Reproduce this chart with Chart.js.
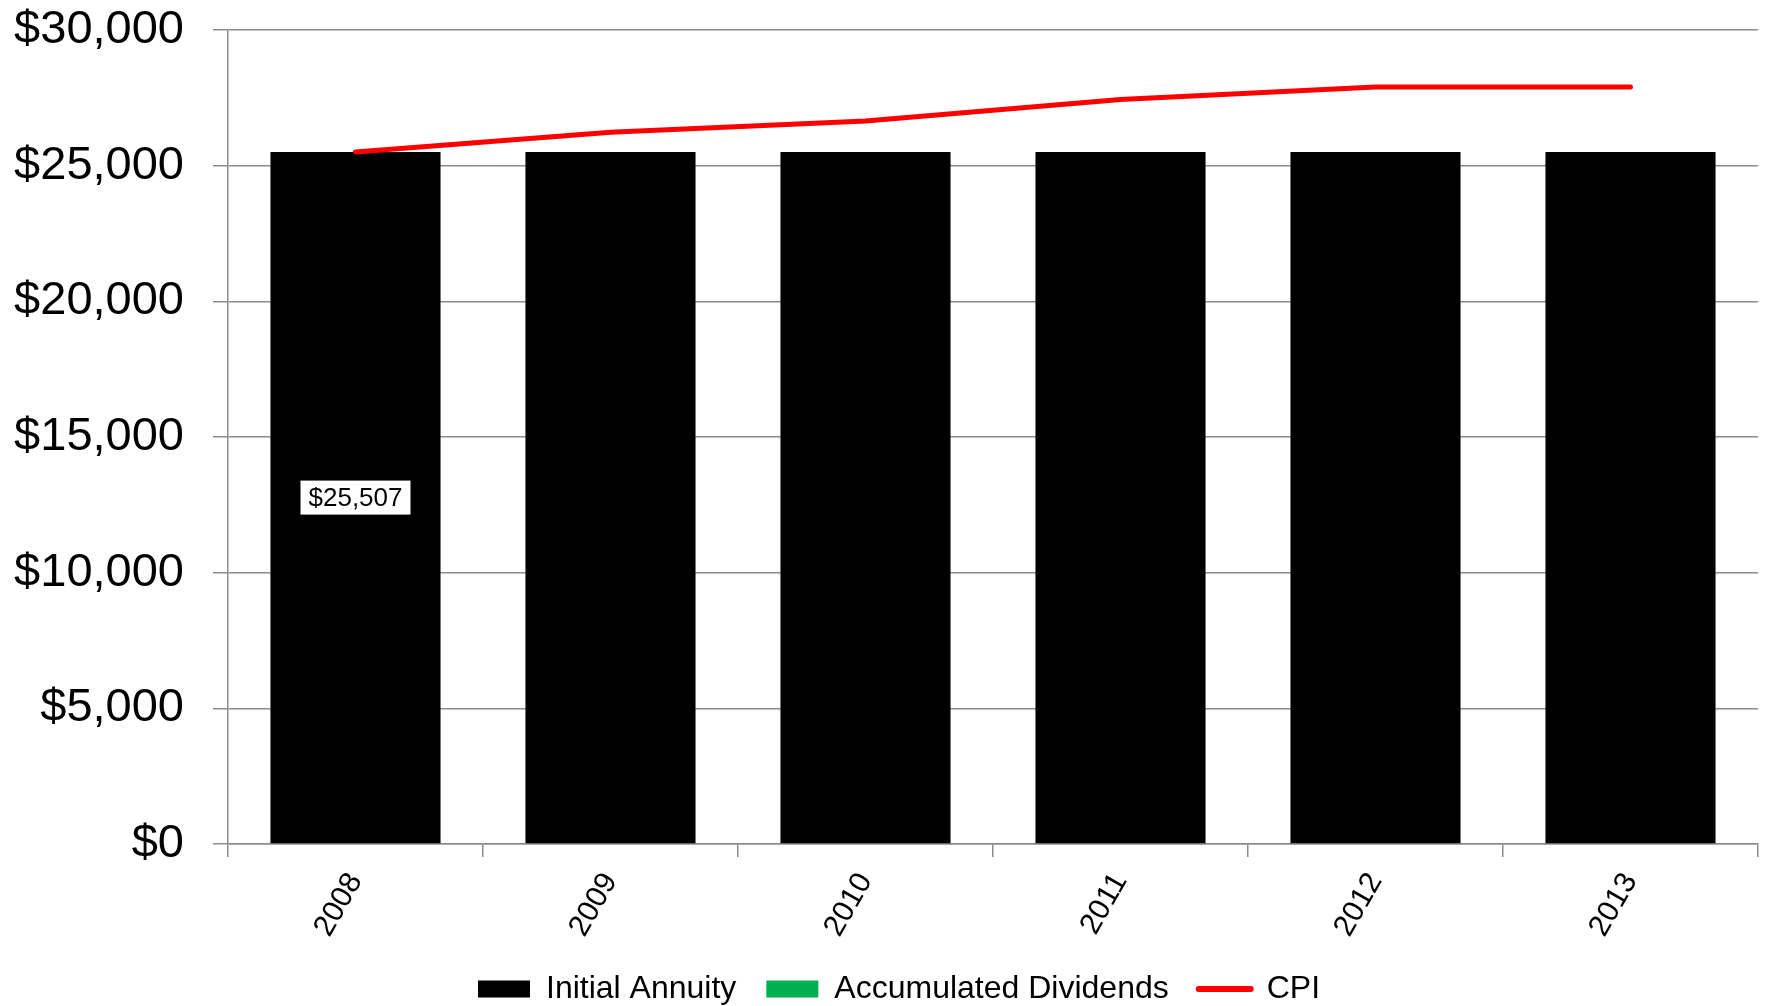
<!DOCTYPE html>
<html>
<head>
<meta charset="utf-8">
<script src="https://cdn.jsdelivr.net/npm/chart.js@4/dist/chart.umd.min.js"></script>
<style>
  html, body { margin: 0; padding: 0; background: #ffffff; }
  #wrap { width: 1773px; height: 1006px; position: relative; }
</style>
</head>
<body>
<div id="wrap"><canvas id="chart" width="1773" height="1006"></canvas></div>
<script>
// Annual values
const years = ['2008', '2009', '2010', '2011', '2012', '2013'];
const initialAnnuity = [25507, 25507, 25507, 25507, 25507, 25507];
const accumulatedDividends = [0, 0, 0, 0, 0, 0];
const cpi = [25507, 26230, 26650, 27440, 27900, 27900];
const yTicks = [0, 5000, 10000, 15000, 20000, 25000, 30000];
const labelledBars = [0]; // bar indices that carry a value label

const FONT = '"Liberation Sans", Arial, Helvetica, sans-serif';
const GRID = '#8c8c8c';

const money = v => '$' + Number(v).toLocaleString('en-US');

// value label in a white box at the middle of a bar
const barLabels = {
  id: 'barLabels',
  afterDatasetsDraw(chart) {
    const meta = chart.getDatasetMeta(0);
    const ctx = chart.ctx;
    ctx.save();
    ctx.font = '26px ' + FONT;
    ctx.textAlign = 'center';
    ctx.textBaseline = 'middle';
    labelledBars.forEach(i => {
      const bar = meta.data[i];
      const text = money(chart.data.datasets[0].data[i]);
      const cx = bar.x;
      const cy = (bar.y + bar.base) / 2;
      const w = ctx.measureText(text).width + 16;
      const h = 34;
      ctx.fillStyle = '#ffffff';
      ctx.fillRect(cx - w / 2, cy - h / 2, w, h);
      ctx.fillStyle = '#000000';
      ctx.fillText(text, cx, cy + 1);
    });
    ctx.restore();
  }
};

// place the legend row under the axis labels and let the year labels use the space above it
const legendPlacement = {
  id: 'legendPlacement',
  beforeDraw(chart) {
    const lg = chart.legend;
    if (lg && lg.lineWidths) {
      const p = chart.options.plugins.legend.labels.padding;
      const fs = chart.options.plugins.legend.labels.font.size;
      const dy = (989 - fs / 2 - p) - lg.top;
      lg.top += dy; lg.bottom += dy;
      const start = (lg.left + p + lg.right - lg.lineWidths[0]) / 2;
      const dx = 478 - start;
      lg.left += dx; lg.right += dx;
    }
    chart.scales.x.bottom = 962;
  }
};

new Chart(document.getElementById('chart'), {
  data: {
    labels: years,
    datasets: [
      {
        type: 'bar',
        label: 'Initial Annuity',
        data: initialAnnuity,
        backgroundColor: '#000000',
        borderWidth: 0,
        stack: 'annuity',
        order: 1,
        barPercentage: 0.667,
        categoryPercentage: 1.0
      },
      {
        type: 'bar',
        label: 'Accumulated Dividends',
        data: accumulatedDividends,
        backgroundColor: '#00b050',
        borderWidth: 0,
        stack: 'annuity',
        order: 1,
        barPercentage: 0.667,
        categoryPercentage: 1.0
      },
      {
        type: 'line',
        label: 'CPI',
        data: cpi,
        borderColor: '#ff0000',
        backgroundColor: '#ff0000',
        borderWidth: 5,
        borderCapStyle: 'round',
        borderJoinStyle: 'round',
        pointRadius: 0,
        tension: 0,
        fill: false,
        stack: 'cpi',
        order: 0
      }
    ]
  },
  options: {
    responsive: false,
    animation: false,
    events: [],
    layout: { padding: { top: 0, right: 15, left: 0, bottom: 0 } },
    scales: {
      x: {
        stacked: true,
        offset: true,
        grid: {
          offset: true,
          drawOnChartArea: false,
          drawTicks: true,
          tickLength: 13,
          color: GRID,
          lineWidth: 1.5
        },
        border: { color: GRID, width: 1.5 },
        ticks: {
          color: '#000000',
          font: { family: FONT, size: 30 },
          minRotation: 60,
          maxRotation: 60,
          padding: 10
        },
        afterFit(scale) {
          const lgH = scale.chart.legend ? scale.chart.legend.height : 0;
          scale.height = 1006 - 844 - lgH;
        }
      },
      y: {
        stacked: true,
        min: 0,
        max: 30000,
        afterBuildTicks(scale) {
          scale.ticks = yTicks.map(v => ({ value: v }));
        },
        grid: {
          color: GRID,
          lineWidth: 1.5,
          drawTicks: true,
          tickLength: 15
        },
        border: { color: GRID, width: 1.5 },
        ticks: {
          color: '#000000',
          font: { family: FONT, size: 47 },
          padding: 29,
          callback: v => money(v)
        },
        afterFit(scale) {
          scale.width = 228;
          scale.paddingTop = 30;
          scale.paddingBottom = 0;
        }
      }
    },
    plugins: {
      tooltip: { enabled: false },
      legend: {
        position: 'bottom',
        labels: {
          color: '#000000',
          font: { family: FONT, size: 32 },
          padding: 30,
          usePointStyle: true,
          pointStyleWidth: 52,
          boxHeight: 17,
          generateLabels(chart) {
            return chart.data.datasets.map((ds, i) => ({
              text: ds.label,
              datasetIndex: i,
              fillStyle: ds.type === 'line' ? ds.borderColor : ds.backgroundColor,
              strokeStyle: ds.type === 'line' ? ds.borderColor : ds.backgroundColor,
              lineWidth: ds.type === 'line' ? 6 : 0,
              lineCap: 'round',
              pointStyle: ds.type === 'line' ? 'line' : 'rect',
              fontColor: '#000000',
              hidden: false
            }));
          }
        }
      }
    }
  },
  plugins: [barLabels, legendPlacement]
});
</script>
</body>
</html>
